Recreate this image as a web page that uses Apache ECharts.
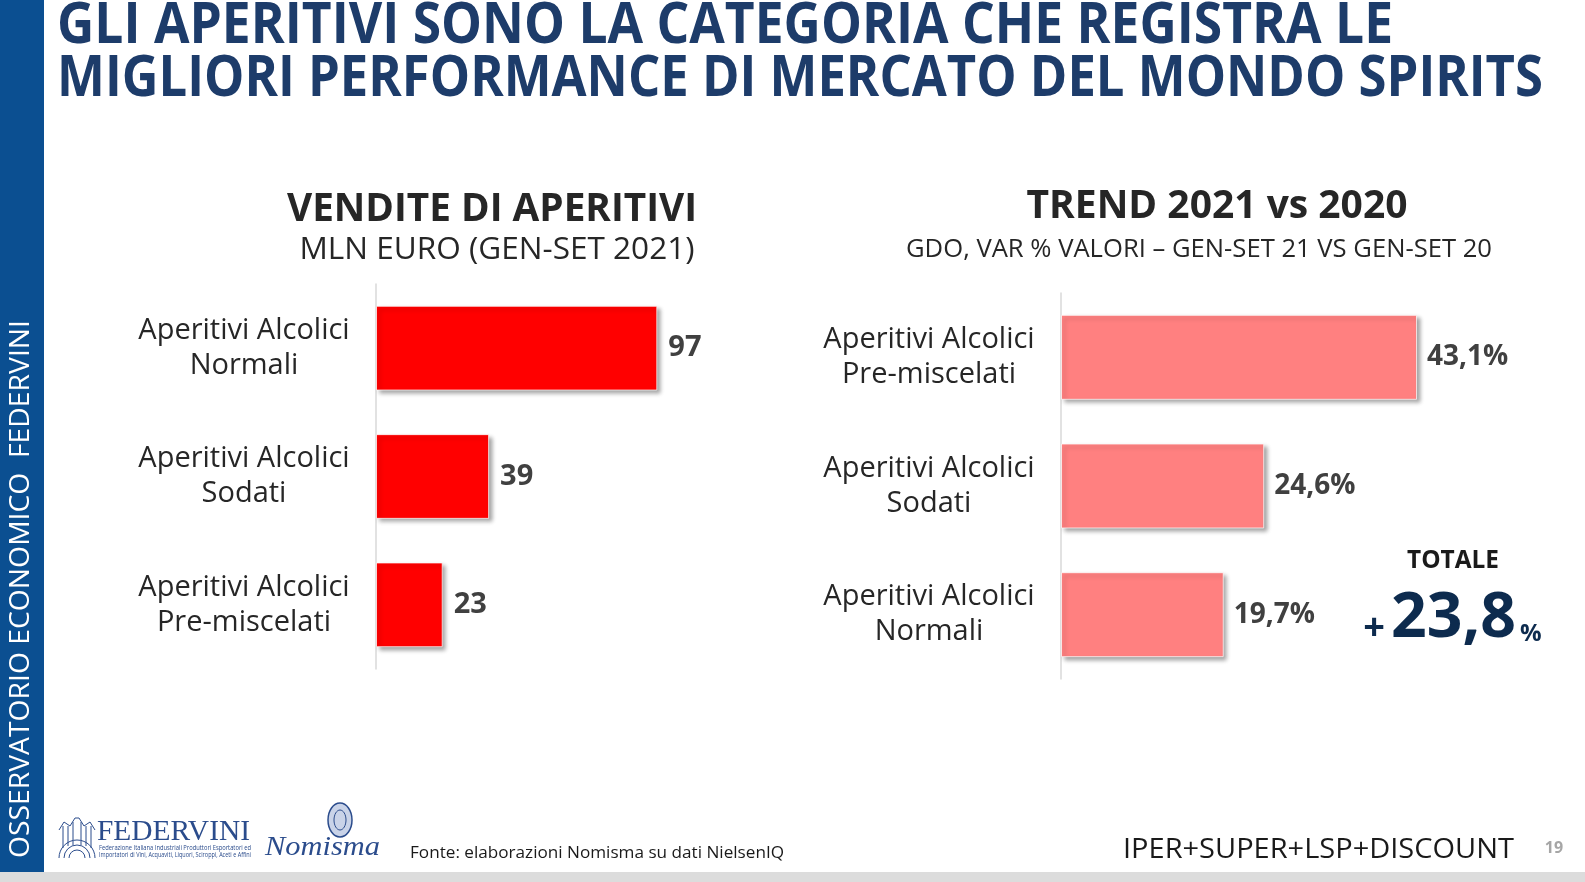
<!DOCTYPE html>
<html>
<head>
<meta charset="utf-8">
<script src="https://cdn.jsdelivr.net/npm/echarts@6/dist/echarts.min.js"></script>
<style>
html,body{margin:0;padding:0;background:#fff;}
#c{width:1585px;height:882px;}
</style>
</head>
<body>
<div id="c"></div>
<script>
// ---- data ----
const salesCategories = ['Aperitivi Alcolici\nNormali', 'Aperitivi Alcolici\nSodati', 'Aperitivi Alcolici\nPre-miscelati'];
const salesValues = [97, 39, 23];
const trendCategories = ['Aperitivi Alcolici\nPre-miscelati', 'Aperitivi Alcolici\nSodati', 'Aperitivi Alcolici\nNormali'];
const trendValues = [43.1, 24.6, 19.7];
const totalTrend = 23.8;

const titleLines = ['GLI APERITIVI SONO LA CATEGORIA CHE REGISTRA LE', 'MIGLIORI PERFORMANCE DI MERCATO DEL MONDO SPIRITS'];
const leftTitle = 'VENDITE DI APERITIVI';
const leftSubtitle = 'MLN EURO (GEN-SET 2021)';
const rightTitle = 'TREND 2021 vs 2020';
const rightSubtitle = 'GDO, VAR % VALORI \u2013 GEN-SET 21 VS GEN-SET 20';
const sideText = 'OSSERVATORIO ECONOMICO  FEDERVINI';
const sourceText = 'Fonte: elaborazioni Nomisma su dati NielsenIQ';
const channelText = 'IPER+SUPER+LSP+DISCOUNT';
const pageNumber = '19';

// ---- helpers ----
const FF = '"Open Sans", "Noto Sans", sans-serif';
const cv = document.createElement('canvas').getContext('2d');
function fit(text, weight, size, family, width) {
  cv.font = weight + ' ' + size + 'px ' + family;
  const w = cv.measureText(text).width;
  return w > 0 ? width / w : 1;
}
function txt(text, x, y, size, opts) {
  opts = opts || {};
  const weight = opts.weight || 'normal';
  const family = opts.family || FF;
  const el = {
    type: 'text', x: x, y: y,
    style: {
      text: text, x: 0, y: 0,
      fontSize: size, fontWeight: weight, fontFamily: family,
      fontStyle: opts.fontStyle || 'normal',
      fill: opts.fill || '#1a1a1a',
      textAlign: opts.align || 'left', textVerticalAlign: 'middle', verticalAlign: 'middle'
    },
    z: 10
  };
  if (opts.width) el.scaleX = fit(text, (opts.fontStyle ? opts.fontStyle + ' ' : '') + weight, size, family, opts.width);
  if (opts.rotation) el.rotation = opts.rotation;
  return el;
}

const fmtPct = v => v.toFixed(1).replace('.', ',');

const chart = echarts.init(document.getElementById('c'), null, {renderer: 'canvas'});

const graphic = [
  {type: 'rect', shape: {x: 0, y: 0, width: 44, height: 872}, style: {fill: '#0b4f91'}, z: 1},
  {type: 'rect', shape: {x: 0, y: 872, width: 1585, height: 10}, style: {fill: '#dcdcdc'}, z: 1},
  txt(sideText, 21, 589, 27, {fill: '#ffffff', align: 'center', width: 538, rotation: Math.PI / 2}),
  txt(titleLines[0], 57, 27, 57, {weight: 'bold', fill: '#1d3c6a', width: 1336}),
  txt(titleLines[1], 57, 80, 57, {weight: 'bold', fill: '#1d3c6a', width: 1486}),
  txt(leftTitle, 492, 210, 40, {weight: 'bold', fill: '#262626', align: 'center', width: 410}),
  txt(leftSubtitle, 497, 250, 31, {fill: '#262626', align: 'center', width: 395}),
  txt(rightTitle, 1217, 207, 40, {weight: 'bold', fill: '#262626', align: 'center', width: 381}),
  txt(rightSubtitle, 1199, 250, 25, {fill: '#262626', align: 'center', width: 586}),
  txt('TOTALE', 1453, 561, 25, {weight: 'bold', fill: '#1a1a1a', align: 'center', width: 92}),
  txt('+', 1374, 629, 38, {weight: 'bold', fill: '#0d2b4e', align: 'center'}),
  txt(fmtPct(totalTrend), 1391, 619, 62, {weight: 'bold', fill: '#0d2b4e', width: 125}),
  txt('%', 1520, 634, 24, {weight: 'bold', fill: '#0d2b4e'}),
  txt(sourceText, 410, 853, 17, {fill: '#1a1a1a', width: 374}),
  txt(channelText, 1123, 850, 28, {fill: '#1a1a1a', width: 391}),
  txt(pageNumber, 1554, 848, 16, {weight: 'bold', fill: '#a6a6a6', align: 'center'}),
  // FEDERVINI logo (approximation)
  txt('FEDERVINI', 97, 832, 30, {fill: '#2b4c8c', family: '"Liberation Serif", "DejaVu Serif", serif', width: 153}),
  txt('Federazione Italiana Industriali Produttori Esportatori ed', 99, 848, 7, {fill: '#2b4c8c', width: 152}),
  txt('Importatori di Vini, Acquaviti, Liquori, Sciroppi, Aceti e Affini', 99, 855, 7, {fill: '#2b4c8c', width: 152}),
  {type: 'group', z: 10, children: [
    {type: 'arc', shape: {cx: 77, cy: 858, r: 18, startAngle: Math.PI, endAngle: 2 * Math.PI}, style: {fill: 'none', stroke: '#2b4c8c', lineWidth: 1}},
    {type: 'arc', shape: {cx: 77, cy: 858, r: 13, startAngle: Math.PI, endAngle: 2 * Math.PI}, style: {fill: 'none', stroke: '#2b4c8c', lineWidth: 1}},
    {type: 'arc', shape: {cx: 77, cy: 858, r: 8, startAngle: Math.PI, endAngle: 2 * Math.PI}, style: {fill: 'none', stroke: '#2b4c8c', lineWidth: 1}},
    {type: 'polyline', shape: {points: [[59, 830], [64, 822], [70, 826], [75, 818], [79, 818], [84, 826], [90, 822], [95, 830]]}, style: {fill: 'none', stroke: '#2b4c8c', lineWidth: 1}},
    {type: 'line', shape: {x1: 63, y1: 826, x2: 63, y2: 848}, style: {stroke: '#2b4c8c', lineWidth: 1}},
    {type: 'line', shape: {x1: 68, y1: 826, x2: 68, y2: 846}, style: {stroke: '#2b4c8c', lineWidth: 1}},
    {type: 'line', shape: {x1: 73, y1: 822, x2: 73, y2: 845}, style: {stroke: '#2b4c8c', lineWidth: 1}},
    {type: 'line', shape: {x1: 81, y1: 822, x2: 81, y2: 845}, style: {stroke: '#2b4c8c', lineWidth: 1}},
    {type: 'line', shape: {x1: 86, y1: 826, x2: 86, y2: 846}, style: {stroke: '#2b4c8c', lineWidth: 1}},
    {type: 'line', shape: {x1: 91, y1: 826, x2: 91, y2: 848}, style: {stroke: '#2b4c8c', lineWidth: 1}}
  ]},
  // Nomisma logo (approximation)
  {type: 'ellipse', shape: {cx: 340, cy: 820, rx: 12, ry: 17}, style: {fill: '#c9d3e8', stroke: '#2b4c8c', lineWidth: 1.5}, z: 10},
  {type: 'ellipse', shape: {cx: 340, cy: 820, rx: 6, ry: 10}, style: {fill: 'none', stroke: '#2b4c8c', lineWidth: 1}, z: 10},
  txt('Nomisma', 265, 848, 28, {fill: '#2b4c8c', family: '"Liberation Serif", "DejaVu Serif", serif', fontStyle: 'italic', width: 115})
];

function yAx(gridIndex, cats) {
  return {
    type: 'category', gridIndex: gridIndex, data: cats, inverse: true,
    axisLine: {show: true, lineStyle: {color: '#d9d9d9', width: 1.5}},
    axisTick: {show: false},
    axisLabel: {
      margin: 132, align: 'center', fontSize: 29, lineHeight: 35,
      color: '#262626', fontFamily: FF
    }
  };
}
const barStyle = color => ({
  color: color,
  borderColor: 'rgba(255,255,255,0.7)', borderWidth: 1,
  shadowColor: 'rgba(0,0,0,0.35)', shadowBlur: 4, shadowOffsetX: 3, shadowOffsetY: 3
});

const option = {
  animation: false,
  backgroundColor: '#ffffff',
  grid: [
    {left: 376, top: 284, width: 290, height: 385, containLabel: false},
    {left: 1061, top: 293, width: 413, height: 386, containLabel: false}
  ],
  xAxis: [
    {type: 'value', gridIndex: 0, min: 0, max: 100, show: false, splitLine: {show: false}},
    {type: 'value', gridIndex: 1, min: 0, max: 50, show: false, splitLine: {show: false}}
  ],
  yAxis: [yAx(0, salesCategories), yAx(1, trendCategories)],
  series: [
    {
      type: 'bar', xAxisIndex: 0, yAxisIndex: 0, data: salesValues,
      barCategoryGap: '34%', itemStyle: barStyle('#ff0000'),
      label: {show: true, position: 'right', distance: 11, fontSize: 29, fontWeight: 'bold', color: '#404040', fontFamily: FF}
    },
    {
      type: 'bar', xAxisIndex: 1, yAxisIndex: 1, data: trendValues,
      barCategoryGap: '34%', itemStyle: barStyle('#ff8080'),
      label: {show: true, position: 'right', distance: 10, fontSize: 28, fontWeight: 'bold', color: '#404040', fontFamily: FF,
        formatter: p => fmtPct(p.value) + '%'}
    }
  ],
  graphic: graphic
};
chart.setOption(option);
</script>
</body>
</html>
